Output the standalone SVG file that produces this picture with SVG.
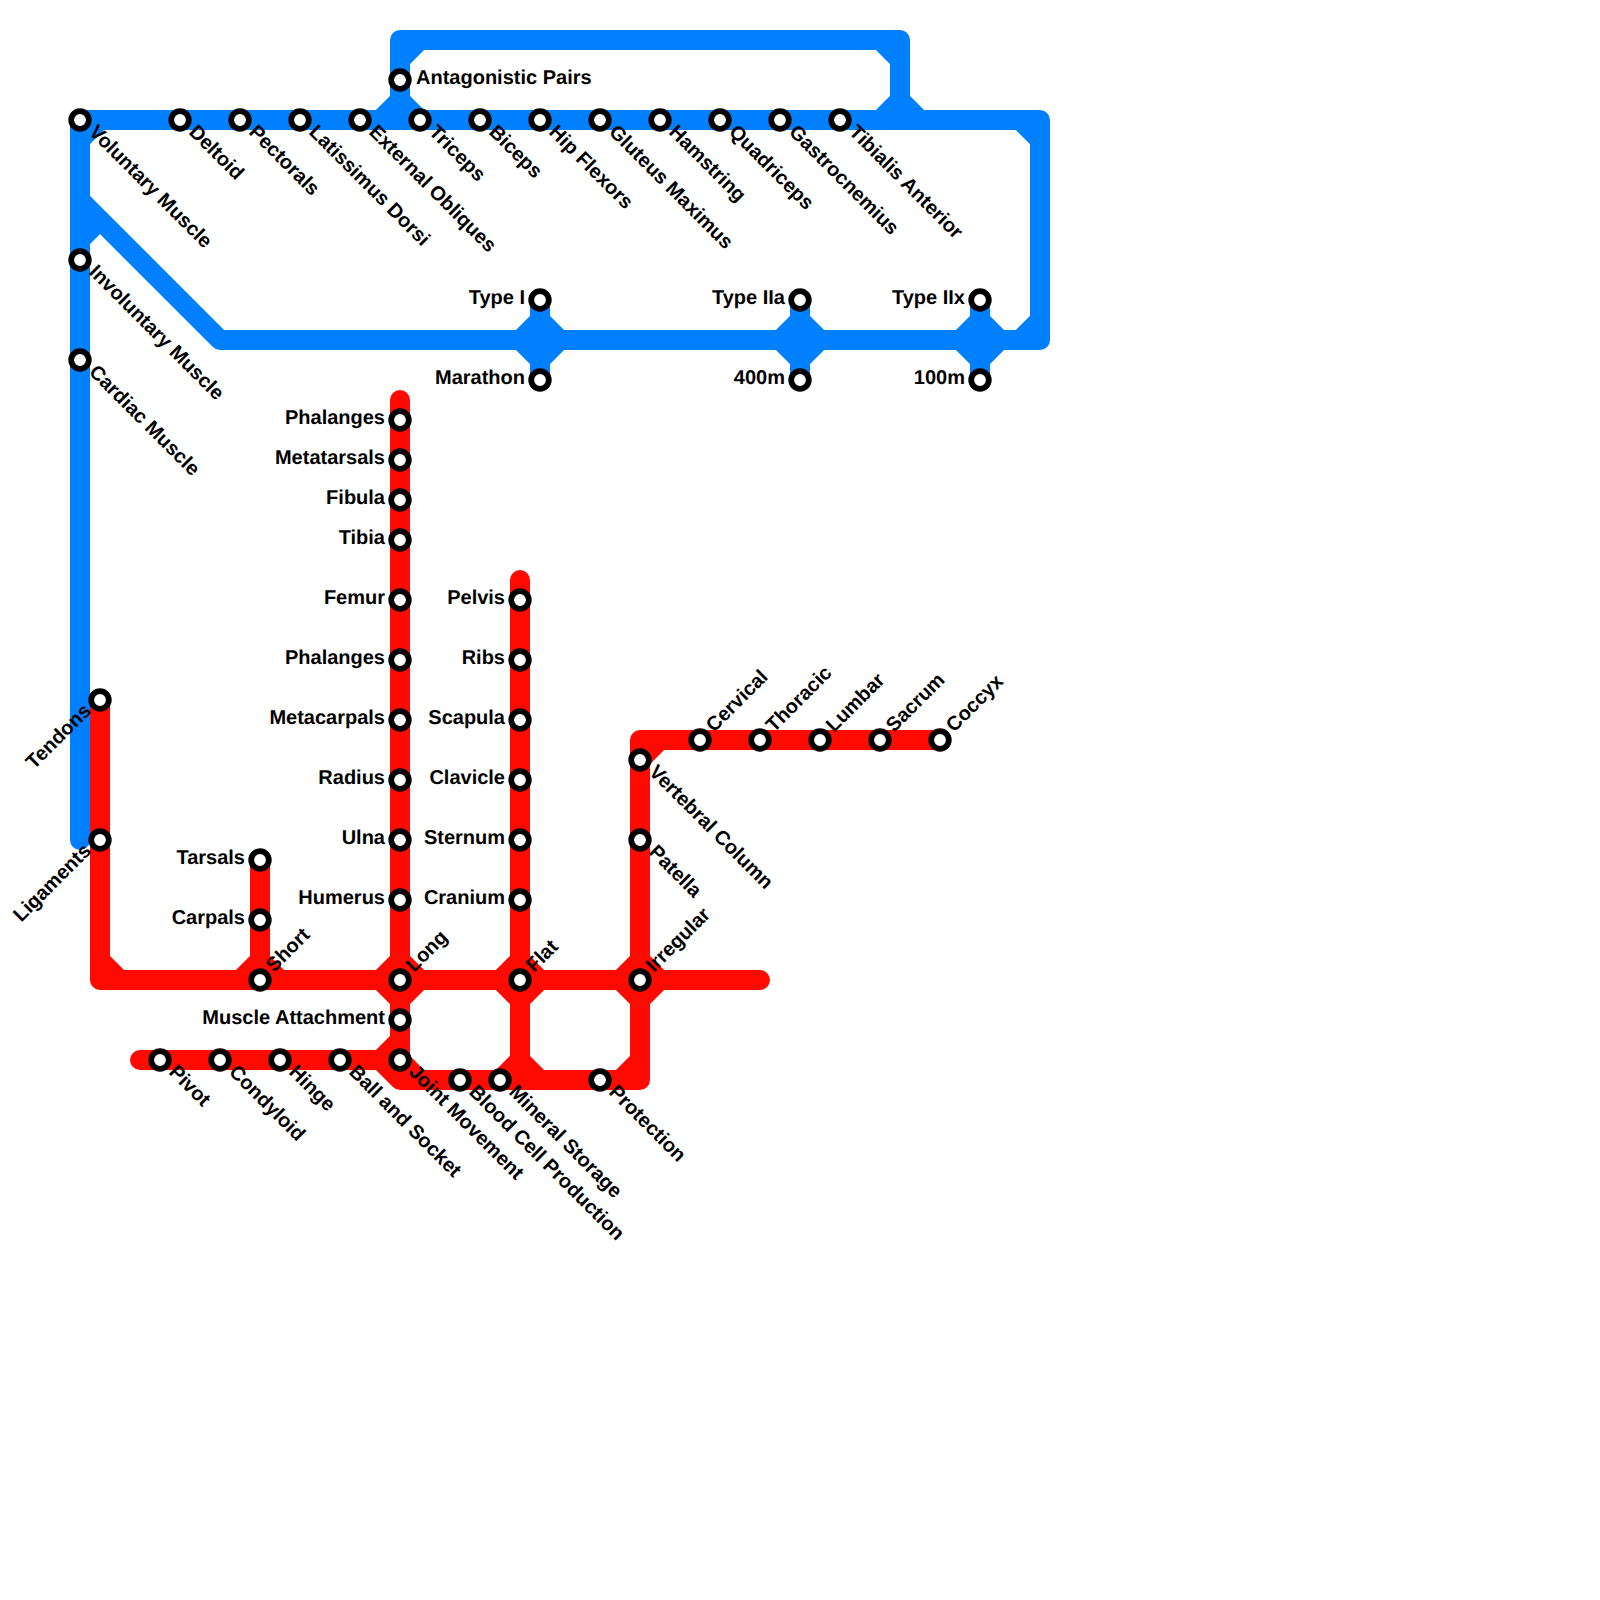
<svg xmlns="http://www.w3.org/2000/svg" width="1600" height="1600" viewBox="0 0 1600 1600">
<style>
.l{fill:none;stroke-width:20;stroke-linecap:round;stroke-linejoin:round}
.b{stroke:#0080ff}.r{stroke:#ff0a00}
circle{fill:#fff;stroke:#000;stroke-width:5.8}
text{font-family:"Liberation Sans",Arial,sans-serif;font-size:20px;font-weight:700;fill:#000;text-rendering:geometricPrecision}
.e{text-anchor:end}
</style>
<rect width="1600" height="1600" fill="#fff"/>
<g id="connectors">
<path class="l b" d="M80 840V120H1040V340H220L80 200M400 120V40H900V120M80 140L100 120M80 240L100 220M400 60L420 40M880 40L900 60M380 120L400 100L420 120M880 120L900 100L920 120M1020 120L1040 140M1020 340L1040 320M540 300V380M520 340L540 320L560 340L540 360ZM800 300V380M780 340L800 320L820 340L800 360ZM980 300V380M960 340L980 320L1000 340L980 360Z"/>
<path class="l r" d="M100 700V980H760M120 980L100 960M260 860V980M240 980L260 960L280 980M400 400V1060M380 980L400 960L420 980L400 1000ZM520 580V1080M500 980L520 960L540 980L520 1000ZM640 740V1080M620 980L640 960L660 980L640 1000ZM640 760L660 740M640 740H940M140 1060H380L400 1080H640M380 1060L400 1040M400 1060L420 1080M500 1080L520 1060L540 1080M620 1080L640 1060"/>
</g>
<g id="n1"><circle cx="80" cy="120" r="8.8"/><text x="88" y="133" transform="rotate(45 88 133)">Voluntary Muscle</text></g>
<g id="n2"><circle cx="180" cy="120" r="8.8"/><text x="188" y="133" transform="rotate(45 188 133)">Deltoid</text></g>
<g id="n3"><circle cx="240" cy="120" r="8.8"/><text x="248" y="133" transform="rotate(45 248 133)">Pectorals</text></g>
<g id="n4"><circle cx="300" cy="120" r="8.8"/><text x="308" y="133" transform="rotate(45 308 133)">Latissimus Dorsi</text></g>
<g id="n5"><circle cx="360" cy="120" r="8.8"/><text x="368" y="133" transform="rotate(45 368 133)">External Obliques</text></g>
<g id="n6"><circle cx="420" cy="120" r="8.8"/><text x="428" y="133" transform="rotate(45 428 133)">Triceps</text></g>
<g id="n7"><circle cx="480" cy="120" r="8.8"/><text x="488" y="133" transform="rotate(45 488 133)">Biceps</text></g>
<g id="n8"><circle cx="540" cy="120" r="8.8"/><text x="548" y="133" transform="rotate(45 548 133)">Hip Flexors</text></g>
<g id="n9"><circle cx="600" cy="120" r="8.8"/><text x="608" y="133" transform="rotate(45 608 133)">Gluteus Maximus</text></g>
<g id="n10"><circle cx="660" cy="120" r="8.8"/><text x="668" y="133" transform="rotate(45 668 133)">Hamstring</text></g>
<g id="n11"><circle cx="720" cy="120" r="8.8"/><text x="728" y="133" transform="rotate(45 728 133)">Quadriceps</text></g>
<g id="n12"><circle cx="780" cy="120" r="8.8"/><text x="788" y="133" transform="rotate(45 788 133)">Gastrocnemius</text></g>
<g id="n13"><circle cx="840" cy="120" r="8.8"/><text x="848" y="133" transform="rotate(45 848 133)">Tibialis Anterior</text></g>
<g id="n14"><circle cx="400" cy="80" r="8.8"/><text x="416" y="84.3">Antagonistic Pairs</text></g>
<g id="n15"><circle cx="80" cy="260" r="8.8"/><text x="88" y="273" transform="rotate(45 88 273)">Involuntary Muscle</text></g>
<g id="n16"><circle cx="80" cy="360" r="8.8"/><text x="88" y="373" transform="rotate(45 88 373)">Cardiac Muscle</text></g>
<g id="n17"><circle cx="540" cy="300" r="8.8"/><text class="e" x="525" y="304.3">Type I</text></g>
<g id="n18"><circle cx="540" cy="380" r="8.8"/><text class="e" x="525" y="384.3">Marathon</text></g>
<g id="n19"><circle cx="800" cy="300" r="8.8"/><text class="e" x="785" y="304.3">Type IIa</text></g>
<g id="n20"><circle cx="800" cy="380" r="8.8"/><text class="e" x="785" y="384.3">400m</text></g>
<g id="n21"><circle cx="980" cy="300" r="8.8"/><text class="e" x="965" y="304.3">Type IIx</text></g>
<g id="n22"><circle cx="980" cy="380" r="8.8"/><text class="e" x="965" y="384.3">100m</text></g>
<g id="n23"><circle cx="400" cy="420" r="8.8"/><text class="e" x="385" y="424.3">Phalanges</text></g>
<g id="n24"><circle cx="400" cy="460" r="8.8"/><text class="e" x="385" y="464.3">Metatarsals</text></g>
<g id="n25"><circle cx="400" cy="500" r="8.8"/><text class="e" x="385" y="504.3">Fibula</text></g>
<g id="n26"><circle cx="400" cy="540" r="8.8"/><text class="e" x="385" y="544.3">Tibia</text></g>
<g id="n27"><circle cx="400" cy="600" r="8.8"/><text class="e" x="385" y="604.3">Femur</text></g>
<g id="n28"><circle cx="400" cy="660" r="8.8"/><text class="e" x="385" y="664.3">Phalanges</text></g>
<g id="n29"><circle cx="400" cy="720" r="8.8"/><text class="e" x="385" y="724.3">Metacarpals</text></g>
<g id="n30"><circle cx="400" cy="780" r="8.8"/><text class="e" x="385" y="784.3">Radius</text></g>
<g id="n31"><circle cx="400" cy="840" r="8.8"/><text class="e" x="385" y="844.3">Ulna</text></g>
<g id="n32"><circle cx="400" cy="900" r="8.8"/><text class="e" x="385" y="904.3">Humerus</text></g>
<g id="n33"><circle cx="520" cy="600" r="8.8"/><text class="e" x="505" y="604.3">Pelvis</text></g>
<g id="n34"><circle cx="520" cy="660" r="8.8"/><text class="e" x="505" y="664.3">Ribs</text></g>
<g id="n35"><circle cx="520" cy="720" r="8.8"/><text class="e" x="505" y="724.3">Scapula</text></g>
<g id="n36"><circle cx="520" cy="780" r="8.8"/><text class="e" x="505" y="784.3">Clavicle</text></g>
<g id="n37"><circle cx="520" cy="840" r="8.8"/><text class="e" x="505" y="844.3">Sternum</text></g>
<g id="n38"><circle cx="520" cy="900" r="8.8"/><text class="e" x="505" y="904.3">Cranium</text></g>
<g id="n39"><circle cx="260" cy="860" r="8.8"/><text class="e" x="245" y="864.3">Tarsals</text></g>
<g id="n40"><circle cx="260" cy="920" r="8.8"/><text class="e" x="245" y="924.3">Carpals</text></g>
<g id="n41"><circle cx="400" cy="1020" r="8.8"/><text class="e" x="385" y="1024.3">Muscle Attachment</text></g>
<g id="n42"><circle cx="260" cy="980" r="8.8"/><text x="274" y="973" transform="rotate(-45 274 973)">Short</text></g>
<g id="n43"><circle cx="400" cy="980" r="8.8"/><text x="414" y="973" transform="rotate(-45 414 973)">Long</text></g>
<g id="n44"><circle cx="520" cy="980" r="8.8"/><text x="534" y="973" transform="rotate(-45 534 973)">Flat</text></g>
<g id="n45"><circle cx="640" cy="980" r="8.8"/><text x="654" y="973" transform="rotate(-45 654 973)">Irregular</text></g>
<g id="n46"><circle cx="700" cy="740" r="8.8"/><text x="714" y="733" transform="rotate(-45 714 733)">Cervical</text></g>
<g id="n47"><circle cx="760" cy="740" r="8.8"/><text x="774" y="733" transform="rotate(-45 774 733)">Thoracic</text></g>
<g id="n48"><circle cx="820" cy="740" r="8.8"/><text x="834" y="733" transform="rotate(-45 834 733)">Lumbar</text></g>
<g id="n49"><circle cx="880" cy="740" r="8.8"/><text x="894" y="733" transform="rotate(-45 894 733)">Sacrum</text></g>
<g id="n50"><circle cx="940" cy="740" r="8.8"/><text x="954" y="733" transform="rotate(-45 954 733)">Coccyx</text></g>
<g id="n51"><circle cx="640" cy="760" r="8.8"/><text x="648" y="773" transform="rotate(45 648 773)">Vertebral Column</text></g>
<g id="n52"><circle cx="640" cy="840" r="8.8"/><text x="648" y="853" transform="rotate(45 648 853)">Patella</text></g>
<g id="n53"><circle cx="100" cy="700" r="8.8"/><text class="e" x="92" y="712" transform="rotate(-45 92 712)">Tendons</text></g>
<g id="n54"><circle cx="100" cy="840" r="8.8"/><text class="e" x="92" y="852" transform="rotate(-45 92 852)">Ligaments</text></g>
<g id="n55"><circle cx="160" cy="1060" r="8.8"/><text x="168" y="1073" transform="rotate(45 168 1073)">Pivot</text></g>
<g id="n56"><circle cx="220" cy="1060" r="8.8"/><text x="228" y="1073" transform="rotate(45 228 1073)">Condyloid</text></g>
<g id="n57"><circle cx="280" cy="1060" r="8.8"/><text x="288" y="1073" transform="rotate(45 288 1073)">Hinge</text></g>
<g id="n58"><circle cx="340" cy="1060" r="8.8"/><text x="348" y="1073" transform="rotate(45 348 1073)">Ball and Socket</text></g>
<g id="n59"><circle cx="400" cy="1060" r="8.8"/><text x="408" y="1073" transform="rotate(45 408 1073)">Joint Movement</text></g>
<g id="n60"><circle cx="460" cy="1080" r="8.8"/><text x="468" y="1093" transform="rotate(45 468 1093)">Blood Cell Production</text></g>
<g id="n61"><circle cx="500" cy="1080" r="8.8"/><text x="508" y="1093" transform="rotate(45 508 1093)">Mineral Storage</text></g>
<g id="n62"><circle cx="600" cy="1080" r="8.8"/><text x="608" y="1093" transform="rotate(45 608 1093)">Protection</text></g>
</svg>
